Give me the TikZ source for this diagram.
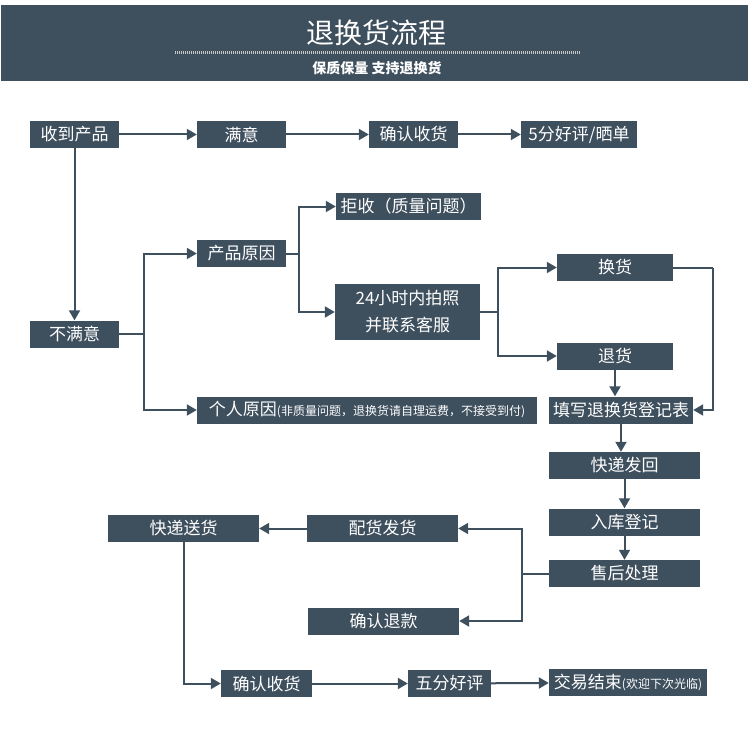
\documentclass[tikz,border=0pt]{standalone}
\usepackage{fontspec}
\newfontfamily\cjk{Noto Sans CJK SC}
\usetikzlibrary{arrows.meta, positioning, calc}
\definecolor{slate}{HTML}{3E4F5E}

\begin{document}
\begin{tikzpicture}[x=1pt,y=-1pt,
		box/.style={fill=slate, text=white, inner sep=0pt, minimum height=27pt, font=\cjk\fontsize{17}{19}\selectfont},
		link/.style={draw=slate, line width=2pt},
		flow/.style={link, -{Triangle[length=10pt,width=11pt]}}]
			\useasboundingbox (0,0) rectangle (750,754);

			\fill[slate] (1,5) rectangle (748,81);
			\node[text=white, font=\cjk\fontsize{28}{30}\selectfont] (title) at (376,33) {退换货流程};
			\draw[gray!45, line width=3pt, dash pattern=on 1pt off 1pt] (175,53) -- (580,53);
			\node[text=white, font=\cjk\bfseries\fontsize{14}{16}\selectfont] (slogan) at (377,68) {保质保量 支持退换货};

			\node[box, minimum width=89pt] (recv) at (74.5,134.5) {收到产品};
			\node[box, minimum width=89pt] (ok) at (241.5,134.5) {满意};
			\node[box, minimum width=89pt] (confirmA) at (413.5,134.5) {确认收货};
			\node[box, minimum width=116pt] (praise) at (579,134.5) {5分好评/晒单};
			\node[box, minimum width=89pt] (notok) at (74.5,334) {不满意};
			\node[box, minimum width=89pt] (prodcause) at (241.5,253.5) {产品原因};
			\node[box, minimum width=145pt] (refuse) at (408.5,206.5) {拒收（质量问题）};
			\node[box, minimum width=145pt, minimum height=56pt, align=center, font=\cjk\fontsize{17}{27}\selectfont] (photo) at (407.5,312) {24小时内拍照\\并联系客服};
			\node[box, minimum width=116pt] (swap) at (615,267.5) {换货};
			\node[box, minimum width=116pt] (refund) at (615,356) {退货};
			\node[box, minimum width=144pt] (form) at (621,410) {填写退换货登记表};
			\node[box, minimum width=340pt] (personal) at (367,410) {个人原因{\fontsize{12}{14}\selectfont(非质量问题，退换货请自理运费，不接受到付)}};
			\node[box, minimum width=151pt] (sendback) at (624.5,465.5) {快递发回};
			\node[box, minimum width=151pt] (stock) at (624.5,522) {入库登记};
			\node[box, minimum width=151pt] (after) at (624.5,573.5) {售后处理};
			\node[box, minimum width=151pt] (ship) at (382.5,528.5) {配货发货};
			\node[box, minimum width=151pt] (courier) at (183.5,528.5) {快递送货};
			\node[box, minimum width=151pt] (refundok) at (383.5,621) {确认退款};
			\node[box, minimum width=91pt] (confirmB) at (266.5,683.5) {确认收货};
			\node[box, minimum width=83pt] (five) at (449.5,683.5) {五分好评};
			\node[box, minimum width=158pt] (done) at (628,682.5) {交易结束{\fontsize{12}{14}\selectfont(欢迎下次光临)}};

			\coordinate (splitA) at (144,334);
			\coordinate (splitB) at (299,253.5);
			\coordinate (splitC) at (498,312);
			\coordinate (turnD) at (713,267.5);
			\coordinate (splitE) at (522,573.5);

			\draw[flow] (recv) -- (ok);
			\draw[flow] (ok) -- (confirmA);
			\draw[flow] (confirmA) -- (praise);
			\draw[flow] (recv) -- (notok);

			\draw[link] (notok) -- (splitA);
			\draw[flow] (splitA) |- (prodcause);
			\draw[flow] (splitA) |- (personal);

			\draw[link] (prodcause) -- (splitB);
			\draw[flow] (splitB) |- (refuse);
			\draw[flow] (splitB) |- (photo);

			\draw[link] (photo) -- (splitC);
			\draw[flow] (splitC) |- (swap);
			\draw[flow] (splitC) |- (refund);

			\draw[link] (swap) -- (turnD);
			\draw[flow] (turnD) |- (form);
			\draw[flow] (refund) -- (refund |- form.north);

			\draw[flow] (form.south) -- (form.south |- sendback.north);
			\draw[flow] (sendback) -- (stock);
			\draw[flow] (stock) -- (after);

			\draw[link] (after) -- (splitE);
			\draw[flow] (splitE) |- (ship);
			\draw[flow] (splitE) |- (refundok);

			\draw[flow] (ship) -- (courier);
			\draw[flow] (courier.south) |- (confirmB);
			\draw[flow] (confirmB) -- (five);
			\draw[flow] (five) -- (done);
		\end{tikzpicture}
\end{document}
